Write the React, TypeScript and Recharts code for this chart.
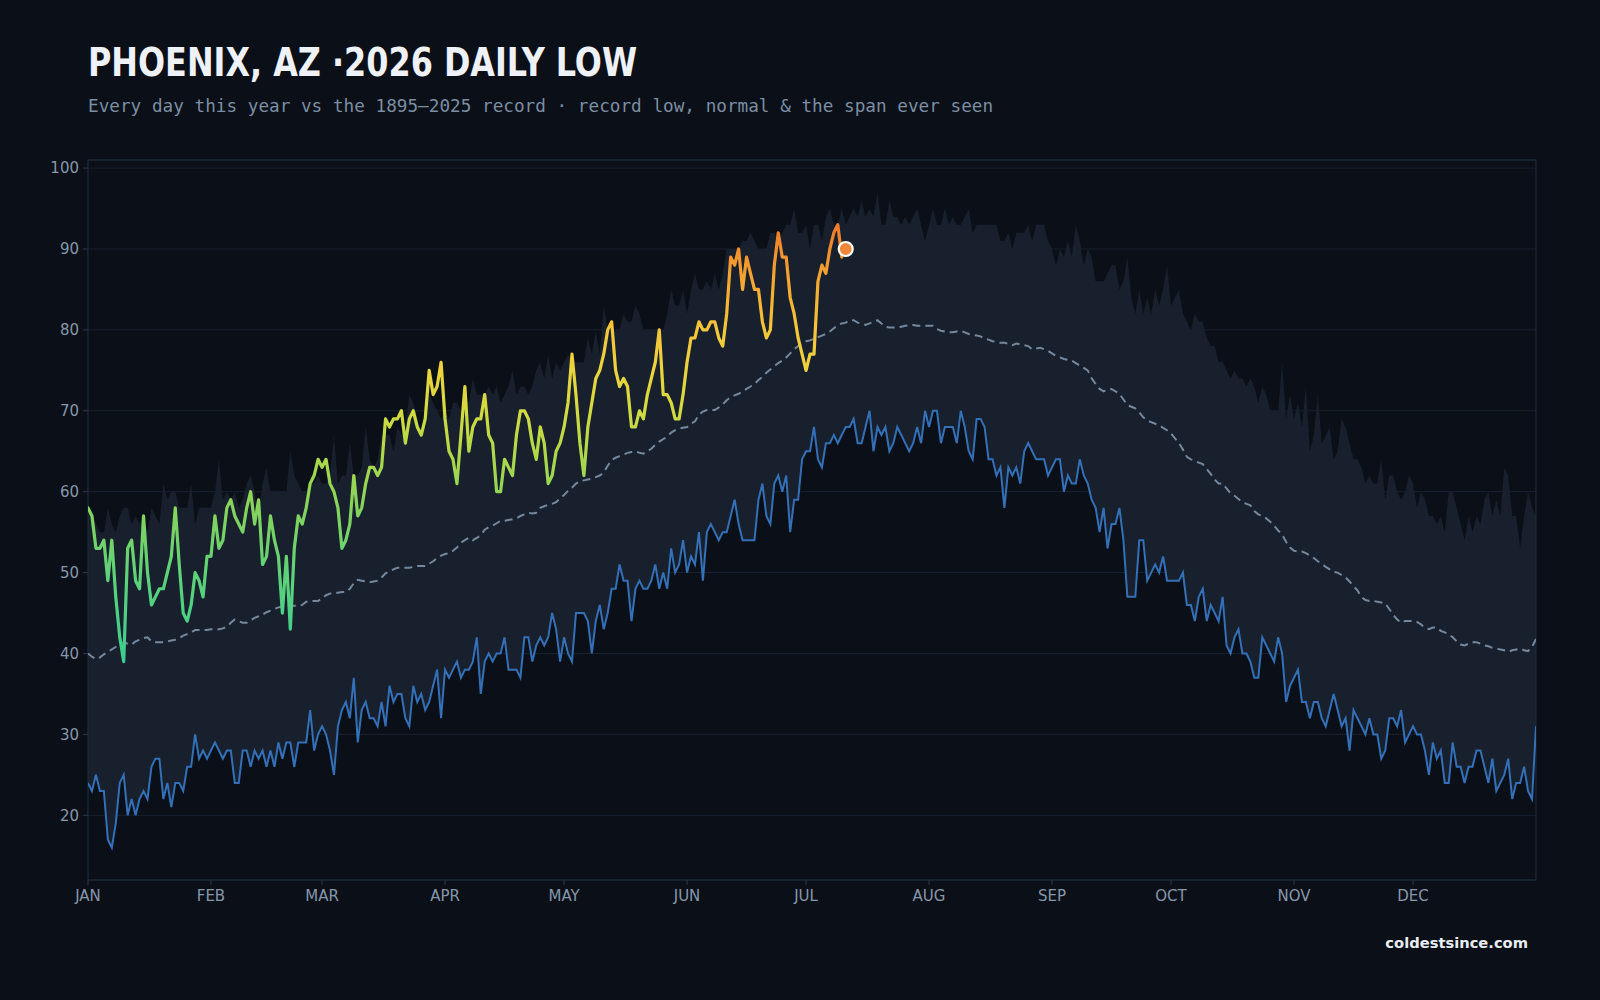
import {
  ComposedChart,
  Area,
  Line,
  XAxis,
  YAxis,
  CartesianGrid,
  ReferenceArea,
  ReferenceDot,
} from "recharts";

// Day-of-year climatology for Phoenix daily lows (index 0 = Jan 1, 366 entries)

// Highest daily low ever recorded for each day (top of the band)
const recordHigh: number[] = [
  // Jan
  58, 57, 56, 55, 55, 58, 56, 55, 57, 58, 58, 56, 57, 56, 57, 55, 58, 57, 56, 61,
  59, 60, 60, 58, 58, 58, 61, 56, 58, 58, 58,
  // Feb
  58, 60, 64, 59, 60, 59, 60, 58, 59, 61, 62, 60, 57, 61, 63, 60, 60, 60, 60, 60,
  65, 62, 61, 60, 60, 61, 61, 62,
  // Mar
  61, 61, 62, 67, 61, 62, 62, 66, 62, 62, 63, 68, 64, 63, 64, 67, 67, 67, 65, 68,
  67, 68, 72, 71, 69, 67, 70, 72, 71, 70, 69,
  // Apr
  70, 69, 71, 71, 70, 72, 71, 74, 72, 72, 72, 73, 72, 73, 71, 72, 73, 75, 72, 73,
  73, 72, 73, 75, 76, 74, 77, 74, 76, 75,
  // May
  76, 77, 76, 76, 76, 76, 79, 77, 80, 77, 83, 80, 80, 80, 80, 82, 81, 81, 83, 82,
  80, 80, 80, 80, 80, 80, 82, 85, 83, 83, 85,
  // Jun
  82, 85, 87, 85, 85, 86, 85, 87, 85, 87, 90, 90, 90, 90, 91, 91, 92, 91, 90, 90,
  90, 92, 92, 91, 92, 93, 93, 95, 92, 92,
  // Jul
  93, 90, 93, 93, 91, 94, 95, 93, 93, 95, 93, 94, 95, 94, 96, 94, 95, 94, 97, 93,
  93, 96, 94, 94, 93, 94, 93, 94, 95, 93, 91,
  // Aug
  93, 95, 93, 93, 95, 93, 94, 93, 93, 94, 95, 92, 93, 93, 93, 93, 93, 93, 91, 91,
  92, 90, 92, 92, 92, 93, 91, 93, 93, 93, 91,
  // Sep
  90, 88, 90, 89, 91, 89, 93, 91, 88, 90, 89, 86, 86, 86, 87, 88, 88, 85, 86, 89,
  84, 82, 85, 82, 84, 82, 85, 83, 85, 88,
  // Oct
  83, 84, 85, 82, 81, 80, 82, 81, 81, 79, 78, 78, 76, 76, 75, 74, 75, 74, 74, 73,
  74, 73, 71, 73, 72, 70, 70, 70, 76, 69, 72,
  // Nov
  69, 71, 68, 73, 65, 67, 72, 66, 67, 68, 64, 65, 69, 68, 66, 64, 64, 63, 61, 62,
  61, 61, 64, 59, 62, 62, 60, 59, 60, 62,
  // Dec
  61, 58, 60, 59, 57, 57, 56, 57, 55, 60, 60, 58, 56, 54, 57, 55, 57, 56, 59, 60,
  57, 59, 57, 63, 62, 57, 57, 53, 57, 60, 58, 57,
];

// Lowest daily low ever recorded for each day (blue line, bottom of the band)
const recordLow: number[] = [
  // Jan
  24, 23, 25, 23, 23, 17, 16, 19, 24, 25, 20, 22, 20, 22, 23, 22, 26, 27, 27, 22,
  24, 21, 24, 24, 23, 26, 26, 30, 27, 28, 27,
  // Feb
  28, 29, 28, 27, 28, 28, 24, 24, 28, 28, 26, 28, 27, 28, 26, 28, 26, 29, 27, 29,
  29, 26, 29, 29, 29, 33, 28, 30,
  // Mar
  31, 30, 28, 25, 31, 33, 34, 32, 37, 29, 33, 34, 32, 32, 31, 34, 31, 36, 34, 35,
  35, 32, 31, 36, 34, 35, 33, 34, 36, 38, 32,
  // Apr
  38, 37, 38, 39, 37, 38, 38, 39, 42, 35, 39, 40, 39, 40, 40, 42, 38, 38, 38, 37,
  42, 42, 39, 41, 42, 41, 42, 45, 43, 39,
  // May
  42, 40, 39, 45, 45, 45, 44, 40, 44, 46, 43, 45, 48, 48, 51, 49, 49, 44, 48, 49,
  48, 48, 49, 51, 48, 50, 48, 53, 50, 51, 54,
  // Jun
  50, 52, 51, 55, 49, 55, 56, 55, 54, 55, 55, 57, 59, 56, 54, 54, 54, 54, 59, 61,
  57, 56, 61, 62, 60, 62, 55, 59, 59, 64,
  // Jul
  65, 65, 68, 64, 63, 66, 66, 67, 66, 67, 68, 68, 69, 66, 66, 68, 70, 65, 68, 67,
  68, 65, 66, 68, 67, 66, 65, 66, 68, 66, 70,
  // Aug
  68, 70, 70, 66, 68, 68, 68, 66, 70, 68, 65, 64, 69, 69, 68, 64, 64, 62, 63, 58,
  63, 62, 63, 61, 65, 66, 65, 64, 64, 64, 62,
  // Sep
  63, 64, 64, 60, 62, 61, 61, 64, 62, 61, 59, 58, 55, 58, 53, 56, 56, 58, 54, 47,
  47, 47, 54, 54, 49, 50, 51, 50, 52, 49,
  // Oct
  49, 49, 49, 50, 46, 46, 44, 47, 48, 44, 46, 45, 44, 47, 41, 40, 42, 43, 40, 40,
  39, 37, 37, 42, 41, 40, 39, 42, 40, 34, 36,
  // Nov
  37, 38, 34, 34, 32, 34, 34, 32, 31, 33, 35, 33, 31, 32, 28, 33, 32, 31, 30, 32,
  30, 30, 27, 28, 32, 32, 31, 33, 29, 30,
  // Dec
  31, 30, 30, 28, 25, 29, 27, 28, 24, 24, 29, 26, 26, 24, 26, 26, 28, 28, 26, 24,
  27, 23, 24, 25, 27, 22, 24, 24, 26, 23, 22, 31,
];

// Normal daily low (dashed line)
const normalLow: number[] = [
  // Jan
  40.0, 39.6, 39.3, 39.5, 39.9, 40.2, 40.5, 40.8, 41.2, 41.4, 41.2, 41.1, 41.5, 41.7,
  41.9, 42.0, 41.5, 41.4, 41.4, 41.4, 41.5, 41.6, 41.7, 41.9, 42.2, 42.4, 42.6, 42.9,
  42.9, 42.9, 42.9,
  // Feb
  43.0, 43.0, 43.0, 43.1, 43.3, 43.8, 44.2, 44.0, 43.8, 43.8, 44.1, 44.4, 44.6, 44.8,
  45.1, 45.3, 45.5, 45.7, 45.8, 45.9, 45.9, 45.9, 45.9, 46.0, 46.4, 46.5, 46.5, 46.5,
  // Mar
  46.8, 47.2, 47.4, 47.5, 47.5, 47.6, 47.6, 48.0, 48.7, 49.1, 49.0, 48.9, 48.8, 48.9,
  49.0, 49.4, 49.9, 50.2, 50.4, 50.6, 50.6, 50.6, 50.6, 50.7, 50.8, 50.8, 50.8, 51.1,
  51.4, 51.8, 52.1,
  // Apr
  52.3, 52.4, 52.7, 53.1, 53.7, 54.0, 54.3, 54.0, 54.3, 54.6, 55.3, 55.6, 55.8, 56.1,
  56.4, 56.4, 56.5, 56.6, 56.7, 57.0, 57.2, 57.4, 57.3, 57.4, 58.0, 58.2, 58.4, 58.5,
  58.7, 59.2,
  // May
  59.6, 60.1, 60.5, 61.0, 61.3, 61.4, 61.5, 61.6, 61.8, 62.0, 62.4, 63.2, 63.9, 64.2,
  64.4, 64.6, 64.8, 64.9, 65.0, 64.8, 64.7, 65.0, 65.3, 65.8, 66.2, 66.5, 66.8, 67.3,
  67.6, 67.8, 67.9,
  // Jun
  68.0, 68.4, 68.7, 69.5, 69.9, 70.1, 70.1, 70.1, 70.4, 70.8, 71.3, 71.7, 71.9, 72.1,
  72.4, 72.7, 73.0, 73.3, 73.8, 74.2, 74.7, 75.1, 75.5, 75.9, 76.2, 76.6, 77.1, 77.6,
  78.0, 78.4,
  // Jul
  78.6, 78.7, 78.9, 79.1, 79.3, 79.5, 79.8, 80.2, 80.6, 80.8, 80.9, 81.2, 81.2, 80.9,
  80.8, 80.6, 80.8, 81.0, 81.2, 80.8, 80.4, 80.3, 80.3, 80.3, 80.4, 80.5, 80.6, 80.6,
  80.5, 80.5, 80.5,
  // Aug
  80.5, 80.5, 80.1, 79.9, 79.8, 79.7, 79.7, 79.8, 79.9, 79.7, 79.5, 79.4, 79.3, 79.2,
  78.9, 78.8, 78.6, 78.5, 78.4, 78.4, 78.3, 78.1, 78.3, 78.2, 78.1, 78.0, 77.6, 77.7,
  77.8, 77.6, 77.4,
  // Sep
  77.1, 76.8, 76.6, 76.4, 76.3, 76.2, 75.9, 75.6, 75.3, 75.0, 74.0, 73.3, 72.7, 72.4,
  72.6, 72.7, 72.4, 72.1, 71.4, 70.7, 70.5, 70.3, 69.8, 69.2, 68.8, 68.6, 68.4, 68.2,
  67.9, 67.6,
  // Oct
  67.2, 66.6, 66.0, 65.2, 64.3, 64.0, 63.8, 63.6, 63.4, 62.8, 62.2, 61.5, 61.0, 61.0,
  60.4, 59.8, 59.5, 59.1, 58.7, 58.5, 58.3, 57.6, 57.2, 57.0, 56.7, 56.3, 55.8, 55.2,
  54.7, 53.8, 53.1,
  // Nov
  52.7, 52.6, 52.6, 52.4, 52.1, 51.8, 51.4, 51.1, 50.7, 50.4, 50.1, 50.0, 49.7, 49.4,
  48.9, 48.3, 47.8, 47.0, 46.6, 46.5, 46.5, 46.4, 46.3, 46.2, 45.5, 44.8, 44.2, 43.8,
  44.0, 44.0,
  // Dec
  44.0, 43.9, 43.6, 43.2, 43.0, 43.2, 43.2, 42.8, 42.6, 42.4, 42.0, 41.5, 41.1, 41.0,
  41.2, 41.4, 41.4, 41.2, 41.0, 40.9, 40.7, 40.6, 40.5, 40.4, 40.2, 40.4, 40.5, 40.6,
  40.4, 40.3, 40.8, 41.8,
];

// 2026 observed daily lows so far (Jan 1 .. Jul 10)
const thisYear: number[] = [
  // Jan
  58, 57, 53, 53, 54, 49, 54, 47, 42, 39, 53, 54, 49, 48, 57, 50, 46, 47, 48, 48,
  50, 52, 58, 51, 45, 44, 46, 50, 49, 47, 52,
  // Feb
  52, 57, 53, 54, 58, 59, 57, 56, 55, 58, 60, 56, 59, 51, 52, 57, 54, 52, 45, 52,
  43, 53, 57, 56, 58, 61, 62, 64,
  // Mar
  63, 64, 61, 60, 58, 53, 54, 56, 62, 57, 58, 61, 63, 63, 62, 63, 69, 68, 69, 69,
  70, 66, 69, 70, 68, 67, 69, 75, 72, 73, 76,
  // Apr
  69, 65, 64, 61, 67, 73, 65, 68, 69, 69, 72, 67, 66, 60, 60, 64, 63, 62, 67, 70,
  70, 69, 66, 64, 68, 66, 61, 62, 65, 66,
  // May
  68, 71, 77, 72, 66, 62, 68, 71, 74, 75, 77, 80, 81, 75, 73, 74, 73, 68, 68, 70,
  69, 72, 74, 76, 80, 72, 72, 71, 69, 69, 72,
  // Jun
  76, 79, 79, 81, 80, 80, 81, 81, 79, 78, 82, 89, 88, 90, 85, 89, 87, 85, 85, 81,
  79, 80, 88, 92, 89, 89, 84, 82, 79, 77,
  // Jul
  75, 77, 77, 86, 88, 87, 90, 92, 93, 89,
];

// Today's reading, shown as a marker
const TODAY_DAY = 191;
const TODAY_LOW = 90;

const MONTH_TICKS = [0, 31, 59, 90, 120, 151, 181, 212, 243, 273, 304, 334];
const MONTH_LABELS = ["JAN", "FEB", "MAR", "APR", "MAY", "JUN", "JUL", "AUG", "SEP", "OCT", "NOV", "DEC"];
const Y_TICKS = [20, 30, 40, 50, 60, 70, 80, 90, 100];

// temperature -> stroke colour for the 2026 line
const TEMP_COLORS: [number, string][] = [
  [93, "#ee7a2a"],
  [89, "#f3952e"],
  [85, "#f6ad32"],
  [80, "#f5c63a"],
  [75, "#ecd43c"],
  [70, "#d3db40"],
  [64, "#abd84b"],
  [58, "#86d45b"],
  [50, "#5fd278"],
  [44, "#4ad086"],
  [39, "#3dcd8f"],
];

const rows = recordHigh.map((hi, day) => ({
  day,
  band: [recordLow[day], hi],
  low: recordLow[day],
  normal: normalLow[day],
  year: day < thisYear.length ? thisYear[day] : null,
}));

const yearMax = Math.max(...thisYear);
const yearMin = Math.min(...thisYear);

const BG = "#0b0f17";
const TICK = { fill: "#8697ab", fontSize: 15, fontFamily: "DejaVu Sans" };

export default function App() {
  return (
    <div
      style={{
        position: "absolute",
        left: 0,
        top: 0,
        width: 1600,
        height: 1000,
        background: BG,
        overflow: "hidden",
      }}
    >
      <div
        style={{
          position: "absolute",
          left: 88,
          top: 44,
          fontFamily: "DejaVu Sans Condensed, DejaVu Sans",
          fontStretch: "condensed",
          fontWeight: 700,
          fontSize: 38.5,
          lineHeight: 1,
          color: "#eef2f7",
          whiteSpace: "nowrap",
          transform: "scaleX(0.92)",
          transformOrigin: "left top",
        }}
      >
        PHOENIX, AZ ·2026 DAILY LOW
      </div>
      <div
        style={{
          position: "absolute",
          left: 88,
          top: 98,
          fontFamily: "DejaVu Sans Mono",
          fontSize: 17.7,
          lineHeight: 1,
          color: "#7b8ea3",
          whiteSpace: "nowrap",
        }}
      >
        Every day this year vs the 1895–2025 record · record low, normal &amp; the span ever seen
      </div>

      <div style={{ position: "absolute", left: 0, top: 0 }}>
        <ComposedChart
          width={1600}
          height={1000}
          data={rows}
          margin={{ top: 160, right: 64, bottom: 90, left: 28 }}
        >
          <defs>
            <linearGradient id="yearGrad" x1="0" y1="0" x2="0" y2="1">
              {TEMP_COLORS.map(([t, c]) => (
                <stop key={t} offset={(yearMax - t) / (yearMax - yearMin)} stopColor={c} />
              ))}
            </linearGradient>
          </defs>

          <CartesianGrid vertical={false} stroke="#182231" strokeWidth={1} />

          <XAxis
            type="number"
            dataKey="day"
            domain={[0, 365]}
            ticks={MONTH_TICKS}
            tickFormatter={(v) => MONTH_LABELS[MONTH_TICKS.indexOf(v)]}
            allowDataOverflow
            interval={0}
            height={30}
            axisLine={false}
            tickLine={{ stroke: "#2b3a4c" }}
            tickSize={5}
            tickMargin={5}
            tick={TICK}
          />
          <YAxis
            domain={[12, 101]}
            ticks={Y_TICKS}
            allowDataOverflow
            interval={0}
            width={60}
            axisLine={false}
            tickLine={{ stroke: "#2b3a4c" }}
            tickSize={5}
            tickMargin={4}
            tick={TICK}
          />

          {/* span of every daily low ever observed */}
          <Area
            type="linear"
            dataKey="band"
            stroke="none"
            fill="#17202c"
            fillOpacity={1}
            isAnimationActive={false}
            activeDot={false}
          />

          <Line
            type="linear"
            dataKey="normal"
            stroke="#75889d"
            strokeWidth={2}
            strokeDasharray="8 5"
            dot={false}
            activeDot={false}
            isAnimationActive={false}
          />

          <Line
            type="linear"
            dataKey="low"
            stroke="#3470b8"
            strokeWidth={2}
            dot={false}
            activeDot={false}
            isAnimationActive={false}
          />

          <Line
            type="linear"
            dataKey="year"
            stroke="url(#yearGrad)"
            strokeWidth={3.2}
            strokeLinejoin="round"
            strokeLinecap="round"
            dot={false}
            activeDot={false}
            isAnimationActive={false}
          />

          <ReferenceDot
            x={TODAY_DAY}
            y={TODAY_LOW}
            r={7}
            fill="#f0873a"
            stroke="#ffffff"
            strokeWidth={2.2}
          />

          {/* plot frame */}
          <ReferenceArea
            x1={0}
            x2={365}
            y1={12}
            y2={101}
            fill="none"
            stroke="#1f2c3c"
            strokeWidth={1.2}
            ifOverflow="visible"
          />
        </ComposedChart>
      </div>

      <div
        style={{
          position: "absolute",
          right: 72,
          top: 936,
          fontFamily: "DejaVu Sans",
          fontWeight: 700,
          fontSize: 14.7,
          lineHeight: 1,
          color: "#e8edf3",
          whiteSpace: "nowrap",
        }}
      >
        coldestsince.com
      </div>
    </div>
  );
}
